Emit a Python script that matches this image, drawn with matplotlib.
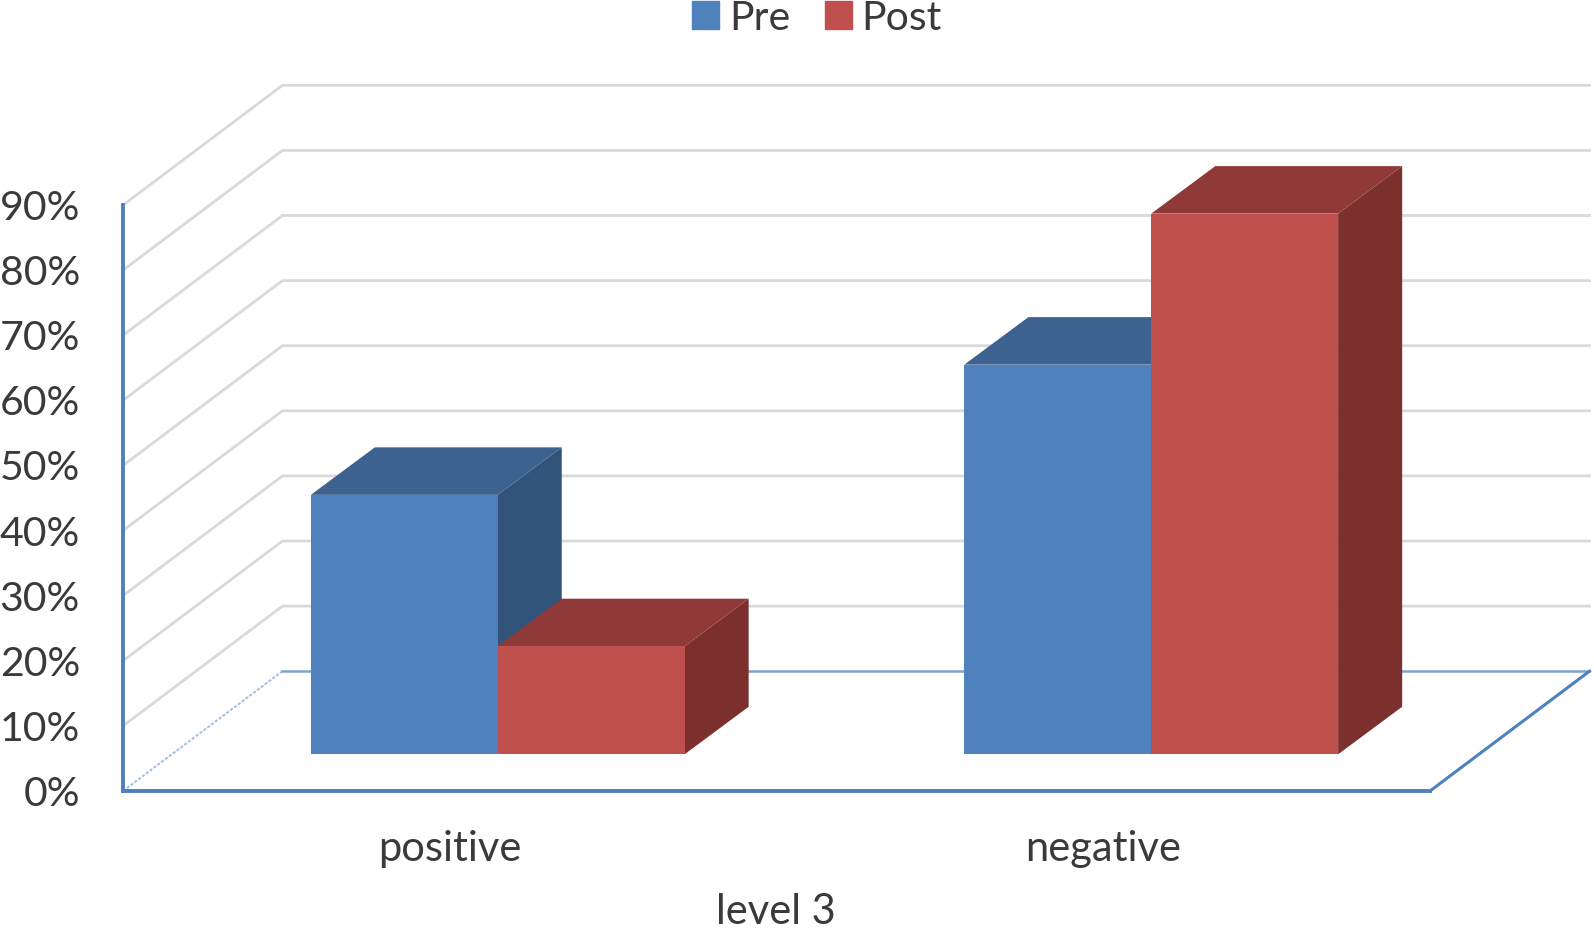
import matplotlib
matplotlib.use("Agg")
import matplotlib.pyplot as plt
from matplotlib.patches import Patch

plt.rcParams['font.family'] = ['Lato', 'DejaVu Sans']

categories = ["positive", "negative"]
pre = [39.85, 59.85]
post = [16.6, 83.05]
y_ticks = [0, 10, 20, 30, 40, 50, 60, 70, 80, 90]
y_labels = ["0%", "10%", "20%", "30%", "40%", "50%", "60%", "70%", "80%", "90%"]

BLUE = '#4f81bd'
RED = '#c0504d'
TEXT = '#3a3a3a'
GRID = '#d9d9d9'

# oblique projection, offsets in data units
wall_dx, wall_dy = 0.244, 18.4
plane_dx, plane_dy = 0.0734, 5.64
bar_dx, bar_dy = 0.098, 7.3
bar_w = 0.286


def draw_bar(ax, left, value, front, top, side, z):
    x0 = left + plane_dx
    x1 = x0 + bar_w
    y0 = plane_dy
    y1 = plane_dy + value
    ax.fill([x1, x1 + bar_dx, x1 + bar_dx, x1],
            [y0, y0 + bar_dy, y1 + bar_dy, y1], color=side, lw=0, zorder=z)
    ax.fill([x0, x1, x1 + bar_dx, x0 + bar_dx],
            [y1, y1, y1 + bar_dy, y1 + bar_dy], color=top, lw=0, zorder=z)
    ax.fill([x0, x1, x1, x0], [y0, y0, y1, y1], color=front, lw=0, zorder=z)


fig = plt.figure(figsize=(15.94, 9.32), dpi=100)
ax = fig.add_axes([0, 0, 1, 1])
ax.set_xlim(-123 / 653.5, (1594 - 123) / 653.5)
ax.set_ylim(-141 / 6.51, 791 / 6.51)
ax.patch.set_visible(False)

# walls
for t in y_ticks[1:]:
    ax.plot([0, wall_dx, 2 + wall_dx], [t, t + wall_dy, t + wall_dy],
            color=GRID, lw=2, zorder=1, solid_joinstyle='miter')

# floor
ax.plot([0, wall_dx], [0, wall_dy], color='#a9c1de', lw=1.5, ls=(0, (1.5, 0.8)), zorder=1)
ax.plot([wall_dx, 2 + wall_dx], [wall_dy, wall_dy], color='#7ea3d0', lw=1.8, zorder=1)
ax.plot([2, 2 + wall_dx], [0, wall_dy], color=BLUE, lw=2.2, zorder=1)

for i in range(len(categories)):
    draw_bar(ax, i + 0.5 - bar_w, pre[i], BLUE, '#3d628f', '#32547b', 3 + i * 2)
    draw_bar(ax, i + 0.5, post[i], RED, '#8f3a38', '#7c302e', 4 + i * 2)

for s in ['top', 'right']:
    ax.spines[s].set_visible(False)
ax.spines['left'].set_position(('data', 0))
ax.spines['bottom'].set_position(('data', 0))
ax.spines['left'].set_bounds(0, 90)
ax.spines['bottom'].set_bounds(0, 2)
for s in ['left', 'bottom']:
    ax.spines[s].set_color(BLUE)
    ax.spines[s].set_linewidth(2.8)
    ax.spines[s].set_zorder(9)

ax.set_yticks(y_ticks)
ax.set_yticklabels(y_labels, fontsize=29.5, color=TEXT)
ax.set_xticks([0.5, 1.5])
ax.set_xticklabels(categories, fontsize=30, color=TEXT)
ax.tick_params(axis='y', length=0, pad=31)
ax.tick_params(axis='x', length=0, pad=28)
ax.set_xlabel("level 3", fontsize=30, color=TEXT, x=776 / 1594, labelpad=18)

handles = [Patch(color=BLUE, label="Pre"), Patch(color=RED, label="Post")]
fig.legend(handles=handles, loc='upper center', bbox_to_anchor=(817 / 1594, 1.04), ncol=2,
           frameon=False, fontsize=29.5, labelcolor=TEXT, handlelength=0.66, handleheight=0.66,
           handletextpad=0.23, columnspacing=0.85)

fig.savefig("out.png", dpi=100)
